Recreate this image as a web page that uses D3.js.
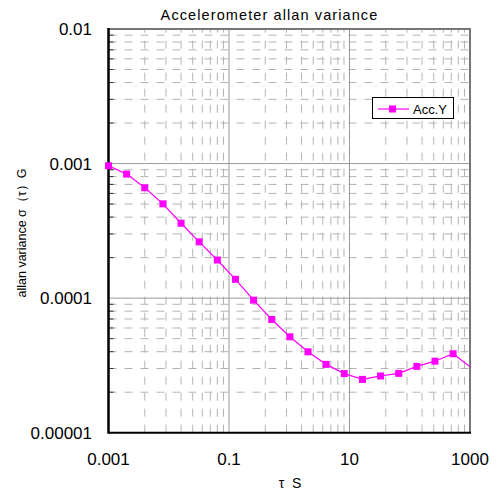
<!DOCTYPE html>
<html>
<head>
<meta charset="utf-8">
<script src="https://cdn.jsdelivr.net/npm/d3@7"></script>
<style>
  body { margin: 0; background: #fff; }
  text { font-family: "Liberation Sans", Arial, sans-serif; fill: #000; }
</style>
</head>
<body>
<div id="chart"></div>
<script>
// Data
const tauValues = [0.001, 0.002, 0.004, 0.008, 0.016, 0.032, 0.064, 0.128, 0.256, 0.512,
                   1.024, 2.048, 4.096, 8.192, 16.384, 32.768, 65.536, 131.072, 262.144, 524.288, 1048.576];
const accY = [0.000963, 0.000835, 0.000661, 0.000502, 0.00036, 0.000262, 0.000192, 0.000138,
              0.0000966, 0.0000694, 0.0000516, 0.0000399, 0.0000322, 0.0000275, 0.0000249,
              0.0000264, 0.0000276, 0.0000311, 0.000034, 0.0000386, 0.0000304];
const seriesName = "Acc.Y";
const xTicks = [0.001, 0.1, 10, 1000];
const xTickLabels = ["0.001", "0.1", "10", "1000"];
const yTicks = [0.00001, 0.0001, 0.001, 0.01];
const yTickLabels = ["0.00001", "0.0001", "0.001", "0.01"];

function drawChart() {
    const W = 496, H = 496;
    const plot = { left: 108.5, right: 470, top: 29, bottom: 432.7 };
    const pink = "#ff00ff";

    const svg = d3.select("#chart").append("svg")
        .attr("width", W)
        .attr("height", H);

    // Scales
    const x = d3.scaleLog().domain([0.001, 1000]).range([plot.left, plot.right]);
    const y = d3.scaleLog().domain([0.00001, 0.01]).range([plot.bottom, plot.top]);

    // Minor grid values (x minor lines sit at k^2 within each 2-decade step)
    const yMinor = [];
    yTicks.slice(0, -1).forEach(d => { for (let k = 2; k <= 9; k++) yMinor.push(d * k); });
    const xMinor = [];
    xTicks.slice(0, -1).forEach(d => { for (let k = 2; k <= 9; k++) xMinor.push(d * k * k); });

    const grid = svg.append("g");

    // Minor dashed grid
    grid.selectAll(".hminor").data(yMinor).enter().append("line")
        .attr("x1", plot.left).attr("x2", plot.right)
        .attr("y1", d => y(d)).attr("y2", d => y(d))
        .attr("stroke", "#b4b4b4").attr("stroke-width", 1)
        .attr("stroke-dasharray", "8,8");
    grid.selectAll(".vminor").data(xMinor).enter().append("line")
        .attr("x1", d => x(d)).attr("x2", d => x(d))
        .attr("y1", plot.bottom).attr("y2", plot.top)
        .attr("stroke", "#b4b4b4").attr("stroke-width", 1)
        .attr("stroke-dasharray", "8,8");

    // Major solid grid
    grid.selectAll(".hmajor").data(yTicks.slice(1, -1)).enter().append("line")
        .attr("x1", plot.left).attr("x2", plot.right)
        .attr("y1", d => y(d)).attr("y2", d => y(d))
        .attr("stroke", "#999").attr("stroke-width", 1);
    grid.selectAll(".vmajor").data(xTicks.slice(1, -1)).enter().append("line")
        .attr("x1", d => x(d)).attr("x2", d => x(d))
        .attr("y1", plot.bottom).attr("y2", plot.top)
        .attr("stroke", "#999").attr("stroke-width", 1);

    // Small inward ticks on the left axis
    grid.selectAll(".ytick").data(yMinor).enter().append("line")
        .attr("x1", plot.left).attr("x2", plot.left + 5)
        .attr("y1", d => y(d)).attr("y2", d => y(d))
        .attr("stroke", "#333").attr("stroke-width", 1);

    // Plot border
    svg.append("line").attr("x1", plot.left).attr("x2", plot.right)
        .attr("y1", plot.top).attr("y2", plot.top)
        .attr("stroke", "#777").attr("stroke-width", 2);
    svg.append("line").attr("x1", plot.right).attr("x2", plot.right)
        .attr("y1", plot.top - 1).attr("y2", plot.bottom)
        .attr("stroke", "#777").attr("stroke-width", 2);
    svg.append("line").attr("x1", plot.left).attr("x2", plot.right + 1)
        .attr("y1", plot.bottom).attr("y2", plot.bottom)
        .attr("stroke", "#000").attr("stroke-width", 2);
    svg.append("line").attr("x1", plot.left).attr("x2", plot.left)
        .attr("y1", plot.top - 1).attr("y2", plot.bottom + 1)
        .attr("stroke", "#000").attr("stroke-width", 2.5);

    // Series (clipped to plot area)
    svg.append("clipPath").attr("id", "clip")
        .append("rect")
        .attr("x", plot.left).attr("y", plot.top)
        .attr("width", plot.right - plot.left).attr("height", plot.bottom - plot.top);

    const pts = tauValues.map((t, i) => ({ t: t, v: accY[i] }));
    const line = d3.line().x(d => x(d.t)).y(d => y(d.v));

    svg.append("path")
        .datum(pts)
        .attr("clip-path", "url(#clip)")
        .attr("fill", "none")
        .attr("stroke", pink)
        .attr("stroke-width", 1.2)
        .attr("d", line);

    svg.selectAll(".marker")
        .data(pts.filter(d => d.t <= 1000))
        .enter().append("rect")
        .attr("x", d => x(d.t) - 3.5)
        .attr("y", d => y(d.v) - 3.5)
        .attr("width", 7).attr("height", 7)
        .attr("fill", pink);

    // Tick labels
    svg.selectAll(".ylabel").data(yTicks).enter().append("text")
        .attr("x", 92)
        .attr("y", d => y(d) + 6)
        .attr("text-anchor", "end")
        .style("font-size", "17px")
        .text((d, i) => yTickLabels[i]);

    svg.selectAll(".xlabel").data(xTicks).enter().append("text")
        .attr("x", d => x(d))
        .attr("y", 465)
        .attr("text-anchor", "middle")
        .style("font-size", "17px")
        .text((d, i) => xTickLabels[i]);

    // Title
    svg.append("text")
        .attr("x", 269.5).attr("y", 20)
        .attr("text-anchor", "middle")
        .style("font-size", "14.5px")
        .style("letter-spacing", "1.1px")
        .text("Accelerometer allan variance");

    // Axis titles
    svg.append("text")
        .attr("x", 290).attr("y", 488)
        .attr("text-anchor", "middle")
        .style("font-size", "14px")
        .text("τ\u00a0\u00a0S");

    svg.append("text")
        .attr("transform", "translate(26,233) rotate(-90)")
        .attr("text-anchor", "middle")
        .style("font-size", "12.5px")
        .text("allan variance σ（τ）G");

    // Legend
    const lg = svg.append("g");
    lg.append("rect")
        .attr("x", 372.5).attr("y", 97.5)
        .attr("width", 81).attr("height", 21)
        .attr("fill", "#fff").attr("stroke", "#000").attr("stroke-width", 1);
    lg.append("line")
        .attr("x1", 378).attr("x2", 409)
        .attr("y1", 109).attr("y2", 109)
        .attr("stroke", pink).attr("stroke-width", 1.2);
    lg.append("rect")
        .attr("x", 389).attr("y", 105.5)
        .attr("width", 7).attr("height", 7)
        .attr("fill", pink);
    lg.append("text")
        .attr("x", 413).attr("y", 114)
        .style("font-size", "13px")
        .text(seriesName);
}

drawChart();
</script>
</body>
</html>
